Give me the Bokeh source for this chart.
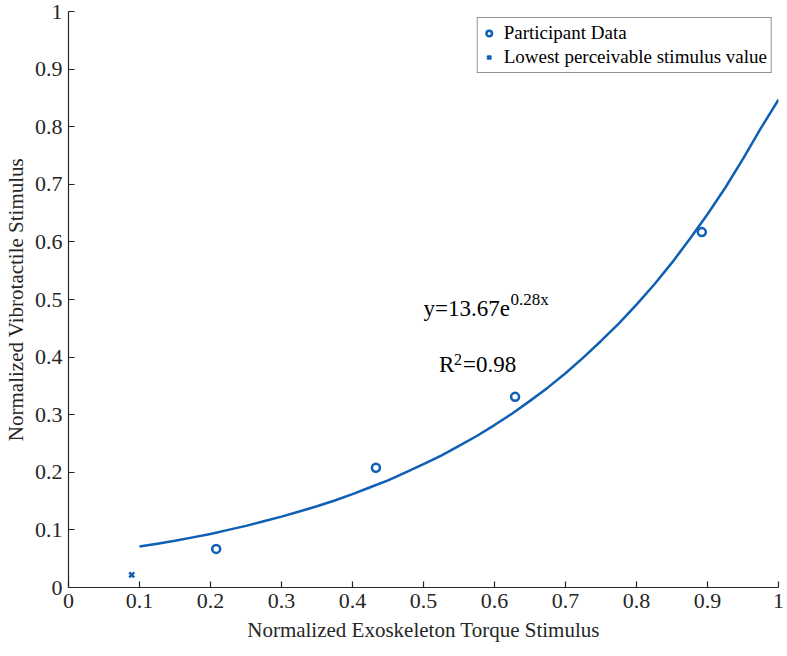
from bokeh.plotting import figure
from bokeh.models import Label, Legend, LegendItem, FixedTicker, Range1d
from bokeh.embed import file_html
from bokeh.resources import INLINE

# data
participant_x = [0.208, 0.433, 0.629, 0.892]
participant_y = [0.067, 0.208, 0.331, 0.617]
lowest_x = [0.089]
lowest_y = [0.022]
fit_x = [0.100, 0.125, 0.150, 0.175, 0.200, 0.225, 0.250, 0.275, 0.300, 0.325,
         0.350, 0.375, 0.400, 0.425, 0.450, 0.475, 0.500, 0.525, 0.550, 0.575,
         0.600, 0.625, 0.650, 0.675, 0.700, 0.725, 0.750, 0.775, 0.800, 0.825,
         0.850, 0.875, 0.900, 0.925, 0.950, 0.975, 1.000]
fit_y = [0.071, 0.076, 0.081, 0.087, 0.093, 0.100, 0.107, 0.115, 0.123, 0.132,
         0.141, 0.151, 0.162, 0.174, 0.186, 0.200, 0.214, 0.229, 0.246, 0.263,
         0.282, 0.302, 0.324, 0.347, 0.372, 0.399, 0.428, 0.458, 0.491, 0.526,
         0.564, 0.605, 0.648, 0.694, 0.744, 0.797, 0.847]
ticks = [0, 0.1, 0.2, 0.3, 0.4, 0.5, 0.6, 0.7, 0.8, 0.9, 1]
tick_labels = {0: "0", 0.1: "0.1", 0.2: "0.2", 0.3: "0.3", 0.4: "0.4", 0.5: "0.5",
               0.6: "0.6", 0.7: "0.7", 0.8: "0.8", 0.9: "0.9", 1: "1"}

BLUE = "#0f5fb5"
FONT = "Liberation Serif"

p = figure(frame_width=710, frame_height=576, output_backend="svg", toolbar_location=None,
           x_range=Range1d(0, 1), y_range=Range1d(0, 1),
           min_border_left=56, min_border_top=11, min_border_right=8, min_border_bottom=0)
p.outline_line_color = None
p.xgrid.visible = False
p.ygrid.visible = False
p.background_fill_color = "white"
p.border_fill_color = "white"

line_r = p.line(fit_x, fit_y, line_color=BLUE, line_width=2.5)
circ_r = p.scatter(participant_x, participant_y, marker="circle", size=8,
                   fill_color=None, line_color=BLUE, line_width=2.5)
x_r = p.scatter(lowest_x, lowest_y, marker="x", size=7, line_color=BLUE, line_width=2.5)

for ax in (p.xaxis[0], p.yaxis[0]):
    ax.ticker = FixedTicker(ticks=ticks)
    ax.major_label_overrides = tick_labels
    ax.major_tick_in = 6
    ax.major_tick_out = 0
    ax.minor_tick_line_color = None
    ax.axis_line_color = "#262626"
    ax.major_tick_line_color = "#262626"
    ax.major_label_text_font = FONT
    ax.major_label_text_font_size = "22px"
    ax.major_label_text_color = "#262626"
    ax.axis_label_text_font = FONT
    ax.axis_label_text_font_size = "21px"
    ax.axis_label_text_font_style = "normal"
    ax.axis_label_text_color = "#262626"
    ax.axis_line_width = 1.2
    ax.major_tick_line_width = 1.2

p.xaxis[0].axis_label = "Normalized Exoskeleton Torque Stimulus"
p.yaxis[0].axis_label = "Normalized Vibrotactile Stimulus"
p.xaxis[0].major_label_standoff = 6
p.yaxis[0].major_label_standoff = 6
p.xaxis[0].axis_label_standoff = 7
p.yaxis[0].axis_label_standoff = 4

legend = Legend(items=[LegendItem(label="Participant Data", renderers=[circ_r]),
                       LegendItem(label="Lowest perceivable stimulus value", renderers=[x_r])],
                location="top_right", label_text_font=FONT, label_text_font_size="19px",
                label_text_color="black", border_line_color="#262626", border_line_width=1,
                glyph_width=14, glyph_height=20, label_height=20, spacing=2,
                padding=4, margin=6, label_standoff=8)
p.add_layout(legend)

p.add_layout(Label(x=0.5, y=0.462, text="y=13.67e", text_font=FONT, text_font_size="23px",
                   text_color="black"))
p.add_layout(Label(x=0.5, y=0.462, x_offset=87, y_offset=12, text="0.28x", text_font=FONT,
                   text_font_size="17px", text_color="black"))
p.add_layout(Label(x=0.522, y=0.365, text="R", text_font=FONT, text_font_size="23px",
                   text_color="black"))
p.add_layout(Label(x=0.522, y=0.365, x_offset=15, y_offset=12, text="2", text_font=FONT,
                   text_font_size="16px", text_color="black"))
p.add_layout(Label(x=0.522, y=0.365, x_offset=24, text="=0.98", text_font=FONT,
                   text_font_size="23px", text_color="black"))

open("out.html", "w").write(file_html(p, INLINE))
